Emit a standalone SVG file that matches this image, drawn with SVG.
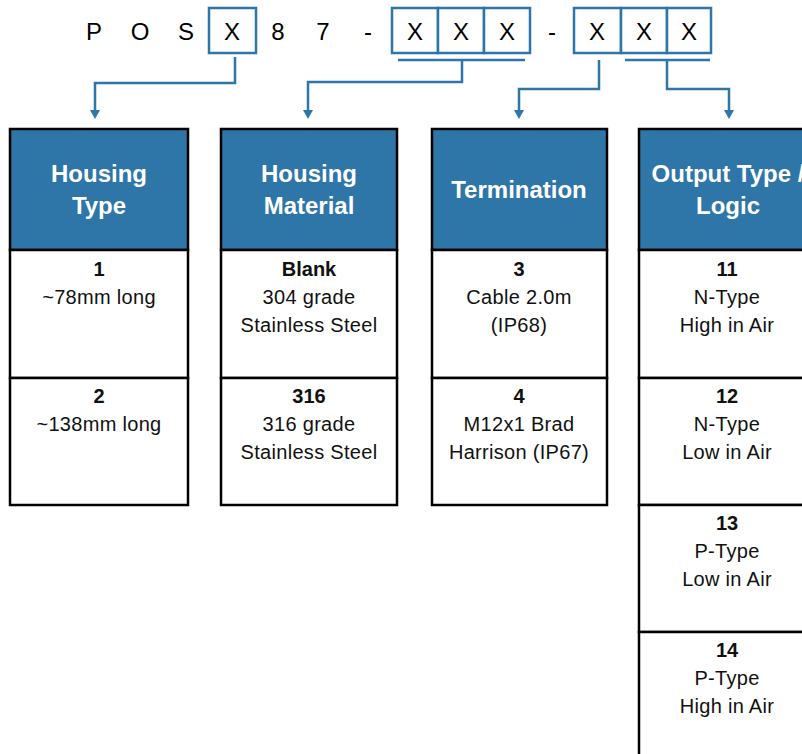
<svg xmlns="http://www.w3.org/2000/svg" width="802" height="754" viewBox="0 0 802 754">
<defs>
<style>
.code{font-family:"Liberation Sans",Arial,sans-serif;font-size:24px;fill:#000;text-anchor:middle}
.cbox{fill:#fff;stroke:#2E75A8;stroke-width:2.5}
.hdr{fill:#2E75A8;stroke:#000;stroke-width:2.5}
.cell{fill:#fff;stroke:#000;stroke-width:2.5}
.ht{font-family:"Liberation Sans",Arial,sans-serif;font-size:24px;font-weight:bold;fill:#fff;text-anchor:middle}
.bt{font-family:"Liberation Sans",Arial,sans-serif;font-size:20px;letter-spacing:0.3px;fill:#111;text-anchor:middle}
.bb{font-weight:bold;letter-spacing:0}
.con{fill:none;stroke:#2E75A8;stroke-width:2.5}
.ah{fill:#2E75A8}
</style>
</defs>
<rect width="802" height="754" fill="#fff"/>
<g id="code">
<text class="code" x="94" y="40">P</text>
<text class="code" x="140" y="40">O</text>
<text class="code" x="186" y="40">S</text>
<rect class="cbox" x="209" y="8" width="47" height="45"/>
<text class="code" x="232" y="40">X</text>
<text class="code" x="278" y="40">8</text>
<text class="code" x="323" y="40">7</text>
<text class="code" x="368" y="40">-</text>
<rect class="cbox" x="392" y="8" width="46" height="45"/>
<rect class="cbox" x="438" y="8" width="46" height="45"/>
<rect class="cbox" x="484" y="8" width="46" height="45"/>
<text class="code" x="415" y="40">X</text>
<text class="code" x="461" y="40">X</text>
<text class="code" x="507" y="40">X</text>
<text class="code" x="552" y="40">-</text>
<rect class="cbox" x="574" y="8" width="47" height="45"/>
<rect class="cbox" x="621" y="8" width="46" height="45"/>
<rect class="cbox" x="667" y="8" width="44" height="45"/>
<text class="code" x="597" y="40">X</text>
<text class="code" x="644" y="40">X</text>
<text class="code" x="689" y="40">X</text>
</g>
<g id="connectors">
<path class="con" d="M235,57 V83 H95 V112"/>
<path class="con" d="M398,60 H525 M462,60 V82 H308 V112"/>
<path class="con" d="M599,60 V89 H519 V112"/>
<path class="con" d="M625,60 H710 M667,60 V89 H729 V112"/>
<path class="ah" d="M90,110 L100,110 L95,119 Z"/>
<path class="ah" d="M303,110 L313,110 L308,119 Z"/>
<path class="ah" d="M514,110 L524,110 L519,119 Z"/>
<path class="ah" d="M724,110 L734,110 L729,119 Z"/>
</g>
<g id="housing-type">
<rect class="hdr" x="10" y="129" width="178" height="121"/>
<text class="ht" x="99" y="182">Housing</text>
<text class="ht" x="99" y="214">Type</text>
<rect class="cell" x="10" y="250" width="178" height="128"/>
<text class="bt bb" x="99" y="276">1</text>
<text class="bt" x="99" y="304">~78mm long</text>
<rect class="cell" x="10" y="378" width="178" height="127"/>
<text class="bt bb" x="99" y="403">2</text>
<text class="bt" x="99" y="431">~138mm long</text>
</g>
<g id="housing-material">
<rect class="hdr" x="221" y="129" width="176" height="121"/>
<text class="ht" x="309" y="182">Housing</text>
<text class="ht" x="309" y="214">Material</text>
<rect class="cell" x="221" y="250" width="176" height="128"/>
<text class="bt bb" x="309" y="276">Blank</text>
<text class="bt" x="309" y="304">304 grade</text>
<text class="bt" x="309" y="332">Stainless Steel</text>
<rect class="cell" x="221" y="378" width="176" height="127"/>
<text class="bt bb" x="309" y="403">316</text>
<text class="bt" x="309" y="431">316 grade</text>
<text class="bt" x="309" y="459">Stainless Steel</text>
</g>
<g id="termination">
<rect class="hdr" x="432" y="129" width="175" height="121"/>
<text class="ht" x="519" y="198">Termination</text>
<rect class="cell" x="432" y="250" width="175" height="128"/>
<text class="bt bb" x="519" y="276">3</text>
<text class="bt" x="519" y="304">Cable 2.0m</text>
<text class="bt" x="519" y="332">(IP68)</text>
<rect class="cell" x="432" y="378" width="175" height="127"/>
<text class="bt bb" x="519" y="403">4</text>
<text class="bt" x="519" y="431">M12x1 Brad</text>
<text class="bt" x="519" y="459">Harrison (IP67)</text>
</g>
<g id="output-type">
<rect class="hdr" x="639" y="129" width="178" height="121"/>
<text class="ht" x="728" y="182">Output Type /</text>
<text class="ht" x="728" y="214">Logic</text>
<rect class="cell" x="639" y="250" width="178" height="128"/>
<text class="bt bb" x="727" y="276">11</text>
<text class="bt" x="727" y="304">N-Type</text>
<text class="bt" x="727" y="332">High in Air</text>
<rect class="cell" x="639" y="378" width="178" height="127"/>
<text class="bt bb" x="727" y="403">12</text>
<text class="bt" x="727" y="431">N-Type</text>
<text class="bt" x="727" y="459">Low in Air</text>
<rect class="cell" x="639" y="505" width="178" height="127"/>
<text class="bt bb" x="727" y="530">13</text>
<text class="bt" x="727" y="558">P-Type</text>
<text class="bt" x="727" y="586">Low in Air</text>
<rect class="cell" x="639" y="632" width="178" height="140"/>
<text class="bt bb" x="727" y="657">14</text>
<text class="bt" x="727" y="685">P-Type</text>
<text class="bt" x="727" y="713">High in Air</text>
</g>
</svg>
